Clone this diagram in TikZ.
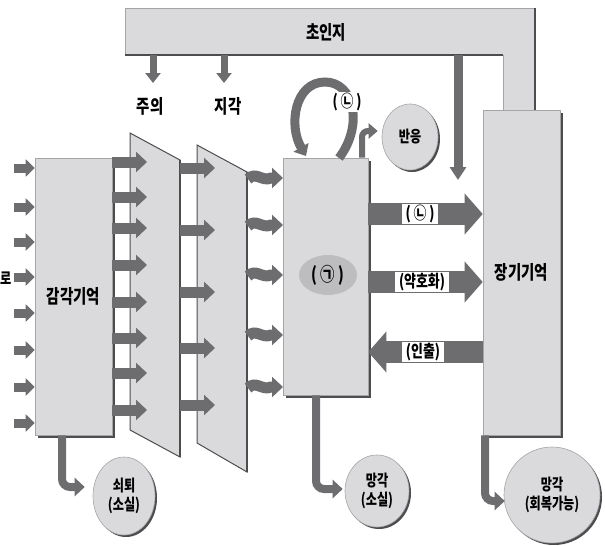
\documentclass[tikz,border=0pt]{standalone}
\usepackage{fontspec}
\setmainfont{Noto Sans CJK KR}[FakeStretch=0.76]
\usetikzlibrary{arrows.meta,shapes.geometric,shadows}
\definecolor{boxc}{HTML}{DADADC}
\definecolor{arrc}{HTML}{6D6D70}
\definecolor{shd}{HTML}{4D4D50}
\definecolor{edgec}{HTML}{A5A5A8}
\definecolor{blobc}{HTML}{BDBDBF}
\begin{document}
\begin{tikzpicture}[x=1pt,y=-1pt,
  font=\bfseries\fontsize{19}{21}\selectfont,
  box/.style={rectangle, fill=boxc, draw=edgec, line width=0.6pt, inner sep=0pt,
    general shadow={fill=shd, shadow xshift=2.5pt, shadow yshift=-2.5pt}},
  oval/.style={ellipse, fill=boxc, draw=edgec, line width=0.6pt, inner sep=0pt, align=center,
    general shadow={fill=shd, shadow xshift=2pt, shadow yshift=-2pt},
    font=\bfseries\fontsize{16}{19}\selectfont},
  inarr/.style={draw=arrc, line width=9pt, -{Triangle[length=9pt,width=17pt]}},
  stagearr/.style={draw=arrc, line width=11pt, -{Triangle[length=11pt,width=20pt]}},
  wavearr/.style={draw=arrc, line width=11pt, -{Triangle[length=11pt,width=20pt]}},
  tinyarr/.style={draw=arrc, line width=7pt, -{Triangle[length=10pt,width=15pt]}},
  bigarr/.style={draw=arrc, line width=22pt, -{Triangle[length=18pt,width=40pt]}},
  bendarr/.style={draw=arrc, line width=8pt, rounded corners=8pt, -{Triangle[length=10pt,width=18pt]}},
  resparr/.style={draw=arrc, line width=6pt, rounded corners=6pt, -{Triangle[length=9pt,width=15pt]}},
  looparr/.style={draw=arrc, line width=9pt, -{Triangle[length=10pt,width=17pt]}},
  lab/.style={fill=white, inner xsep=4pt, inner ysep=1pt, font=\bfseries\fontsize{17}{19}\selectfont},
  plain/.style={inner sep=1pt}
]
\useasboundingbox (0,0) rectangle (605,546);
% metacognition bar
\fill[boxc] (125,8) -- (535,8) -- (535,110) -- (503,110) -- (503,55) -- (125,55) -- cycle;
\draw[edgec, line width=0.6pt] (125,55) -- (125,8) -- (535,8);
\draw[edgec, line width=0.6pt] (503,55) -- (503,110);
\draw[shd, line width=2.5pt] (535,8) -- (535,110);
\draw[shd, line width=2.5pt] (125,55) -- (503,55);
\node[plain] (meta) at (326,32) {초인지};
% attention and perception filters
\filldraw[fill=boxc, draw=shd, line width=1pt] (130,133) -- (180,160) -- (180,457) -- (130,430) -- cycle;
\draw[shd, line width=2.5pt] (180,160) -- (180,457);
\filldraw[fill=boxc, draw=shd, line width=1pt] (197,145) -- (247,172) -- (247,472) -- (197,443) -- cycle;
\draw[shd, line width=2.5pt] (247,172) -- (247,472);
\node[plain] (attl) at (150,106) {주의};
\node[plain] (perl) at (228,106) {지각};
% boxes
\node[box, minimum width=77pt, minimum height=277pt] (sm) at (73.5,296.5) {감각기억};
\node[box, minimum width=85pt, minimum height=237pt] (wm) at (325.5,276.5) {};
\node[ellipse, fill=blobc, minimum width=58pt, minimum height=40pt, inner sep=0pt,
  font=\bfseries\fontsize{19}{21}\selectfont] (blob) at (328,275) {(\,㉠\,)};
\node[box, minimum width=77pt, minimum height=325pt] (ltm) at (521.5,272.5) {장기기억};
\node[anchor=west, inner sep=0pt, font=\bfseries\fontsize{16}{18}\selectfont] (lo) at (0,278) {로};
% ovals
\node[oval, minimum width=56pt, minimum height=66pt] (resp) at (410,137) {반응};
\node[oval, minimum width=62pt, minimum height=78pt] (decay) at (124,496) {쇠퇴\\(소실)};
\node[oval, minimum width=64pt, minimum height=72pt] (f1) at (377,491) {망각\\(소실)};
\node[oval, minimum width=96pt, minimum height=96pt] (f2) at (552,495) {망각\\(회복가능)};
% arrows from metacognition
\coordinate (m1) at (153,55);
\coordinate (m2) at (224,55);
\coordinate (m3) at (458,55);
\draw[tinyarr] (m1) -- (153,83);
\draw[tinyarr] (m2) -- (224,83);
\draw[draw=arrc, line width=9pt, -{Triangle[length=13pt,width=16pt]}] (m3) -- (458,180);
% input arrows
\foreach \y in {168,207,242,277,313,350,387,423}{
  \path (0,\y) coordinate (t);
  \draw[inarr] (14,\y) -- (sm.west |- t);
}
% sensory -> attention
\foreach \y in {162,197,228,265,302,338,373,410}{
  \path (0,\y) coordinate (t);
  \draw[stagearr] (sm.east |- t) -- (147,\y);
}
% attention -> perception
\foreach \y in {168,230,292,348,405}{
  \draw[stagearr] (180,\y) -- (215,\y);
}
% perception -> working memory (wavy)
\foreach \y in {178,225,275,335,387}{
  \draw[wavearr] (248,\y+1) .. controls (256,\y-7) and (262,\y+4) .. (271,\y) -- (283,\y);
}
% loop (rehearsal)
\draw[looparr] (339,158) .. controls (364,125) and (354,82) .. (325,82) .. controls (295,82) and (288,125) .. (306,156);
\node[lab, inner xsep=2pt] (loopl) at (347,102) {(\,㉡\,)};
% response
\draw[resparr] ([xshift=36.5pt]wm.north) |- ([xshift=-4pt,yshift=6pt]resp.west);
% WM <-> LTM
\coordinate (y1) at (0,214);
\coordinate (y2) at (0,282);
\coordinate (y3) at (0,352);
\draw[bigarr] (wm.east |- y1) -- (ltm.west |- y1);
\draw[bigarr] (wm.east |- y2) -- (ltm.west |- y2);
\draw[bigarr] (ltm.west |- y3) -- (wm.east |- y3);
\node[lab, inner xsep=4pt] (l1) at (420,214) {(\,㉡\,)};
\node[lab] (l2) at (422,282) {(약호화)};
\node[lab] (l3) at (423,352) {(인출)};
% forgetting arrows
\draw[bendarr] ([xshift=-11.5pt]sm.south) |- ([xshift=-8pt,yshift=9pt]decay.west);
\draw[bendarr] ([xshift=-9.5pt]wm.south) |- ([xshift=-2pt,yshift=2pt]f1.west);
\draw[bendarr] ([xshift=-36.5pt]ltm.south) |- ([xshift=1pt,yshift=-6pt]f2.west);
\end{tikzpicture}
\end{document}
